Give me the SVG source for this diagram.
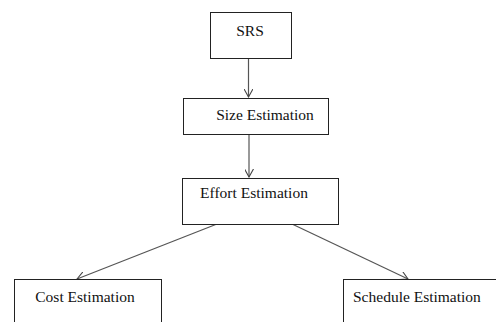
<svg xmlns="http://www.w3.org/2000/svg" width="496" height="322" viewBox="0 0 496 322">
<defs>
<marker id="arr" viewBox="0 0 10 10" refX="9" refY="5" markerWidth="9" markerHeight="9" markerUnits="userSpaceOnUse" orient="auto">
<path d="M0,0 L9,5 L0,10" fill="none" stroke="#444" stroke-width="1.2"/>
</marker>
<style>
.box{fill:#fff;stroke:#222;stroke-width:1}
.t{font-family:"Liberation Serif","Times New Roman",serif;font-size:15.5px;fill:#111}
.c{stroke:#555;stroke-width:1.2;fill:none;marker-end:url(#arr)}
</style>
</defs>
<rect width="496" height="322" fill="#fff"/>
<g id="connectors">
<line class="c" x1="248.5" y1="58" x2="248.5" y2="97"/>
<line class="c" x1="249" y1="134" x2="249" y2="177"/>
<line class="c" x1="217" y1="224" x2="77" y2="279"/>
<line class="c" x1="292" y1="224" x2="408" y2="279"/>
</g>
<g id="srs"><rect class="box" x="210.5" y="12.5" width="81" height="46"/><text class="t" x="250" y="36" text-anchor="middle">SRS</text></g>
<g id="size"><rect class="box" x="183.5" y="98.5" width="145" height="36"/><text class="t" x="265" y="120" text-anchor="middle">Size Estimation</text></g>
<g id="effort"><rect class="box" x="182.5" y="178.5" width="156" height="46"/><text class="t" x="254" y="198" text-anchor="middle">Effort Estimation</text></g>
<g id="cost"><rect class="box" x="14.5" y="279.5" width="147" height="50"/><text class="t" x="85" y="302" text-anchor="middle">Cost Estimation</text></g>
<g id="schedule"><rect class="box" x="343.5" y="279.5" width="160" height="50"/><text class="t" x="353" y="302">Schedule Estimation</text></g>
</svg>
